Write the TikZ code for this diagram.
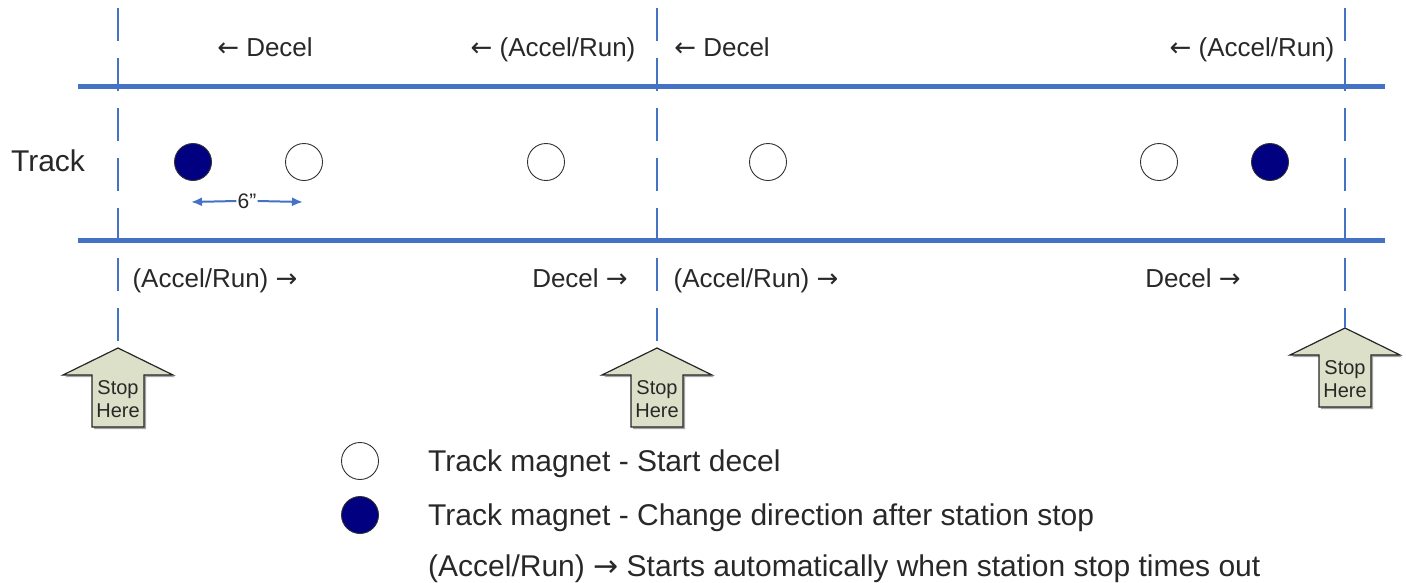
\documentclass[tikz,border=0pt]{standalone}
\usepackage{fontspec}
\setmainfont{Liberation Sans}
\newfontfamily\arrfont{DejaVu Sans}
\newcommand\rarr{{\arrfont →}}
\newcommand\larr{{\arrfont ←}}
\usetikzlibrary{arrows.meta}
\definecolor{trackblue}{RGB}{68,114,196}
\definecolor{navyfill}{RGB}{0,0,128}
\definecolor{stopfill}{RGB}{221,224,201}
\definecolor{txt}{RGB}{40,40,40}
\newcommand\stoparrow[3]{% x, tip y, name
  \fill[black!35,shift={(#1+2,#2+2)}] (0,0) -- (55,27) -- (26,27) -- (26,79) -- (-26,79) -- (-26,27) -- (-55,27) -- cycle;
  \draw[stopshape,shift={(#1,#2)}] (0,0) -- (55,27) -- (26,27) -- (26,79) -- (-26,79) -- (-26,27) -- (-55,27) -- cycle;
  \coordinate (#3tip) at (#1,#2);
  \node[stoptext] (#3) at (#1,#2+51) {Stop\\Here};
}
\begin{document}
\begin{tikzpicture}[x=1pt,y=-1pt,
  track/.style={trackblue, line width=5pt},
  vline/.style={trackblue, line width=1.6pt, dash pattern=on 33pt off 17pt},
  mag/.style={circle, draw=black!80, line width=0.9pt, minimum size=37pt, inner sep=0pt},
  magopen/.style={mag, fill=white},
  magclosed/.style={mag, fill=navyfill},
  lbl/.style={font=\fontsize{26}{31}\selectfont, inner sep=0pt, text=txt, anchor=base},
  leg/.style={font=\fontsize{30}{36}\selectfont, anchor=base west, inner sep=0pt, text=txt},
  stopshape/.style={fill=stopfill, draw=black!85, line width=1.2pt, line join=miter},
  stoptext/.style={font=\fontsize{20}{23}\selectfont, align=center, inner sep=0pt, text=txt},
  dim/.style={trackblue, line width=2pt, -{Latex[length=11pt,width=9pt]}}
]
\useasboundingbox (0,0) rectangle (1406,582);

% stop arrows
\stoparrow{118}{348}{stopA}
\stoparrow{657}{348}{stopB}
\stoparrow{1345}{328}{stopC}

% vertical dashed lines
\coordinate (vA) at (118,8);
\coordinate (vB) at (657,8);
\coordinate (vC) at (1345,8);
\draw[vline] (vA) -- (stopAtip);
\draw[vline] (vB) -- (stopBtip);
\draw[vline] (vC) -- (stopCtip);

% tracks
\coordinate (t1l) at (78,86);  \coordinate (t1r) at (1385,86);
\coordinate (t2l) at (78,240); \coordinate (t2r) at (1385,240);
\draw[track] (t1l) -- (t1r);
\draw[track] (t2l) -- (t2r);

\node[font=\fontsize{30}{36}\selectfont, text=txt, inner sep=0pt] (track) at (48,161) {Track};

% top labels
\node[lbl] (u1) at (265,56) {\larr\ Decel};
\node[lbl] (u2) at (553,56) {\larr\ (Accel/Run)};
\node[lbl] (u3) at (722,56) {\larr\ Decel};
\node[lbl] (u4) at (1252,56) {\larr\ (Accel/Run)};

% bottom labels
\node[lbl] (b1) at (215,287) {(Accel/Run) \rarr};
\node[lbl] (b2) at (580,287) {Decel \rarr};
\node[lbl] (b3) at (756,287) {(Accel/Run) \rarr};
\node[lbl] (b4) at (1193,287) {Decel \rarr};

% magnets
\node[magclosed] (m1) at (193,162) {};
\node[magopen] (m2) at (304,162) {};
\node[magopen] (m3) at (546,162) {};
\node[magopen] (m4) at (768,162) {};
\node[magopen] (m5) at (1159,162) {};
\node[magclosed] (m6) at (1270,162) {};

% 6" dimension
\node[font=\fontsize{21}{24}\selectfont, text=txt, inner sep=1pt] (six) at (247,201) {6"};
\coordinate (dl) at (191,202);
\coordinate (dr) at (303,202);
\draw[dim] (six.west) -- (dl);
\draw[dim] (six.east) -- (dr);

% legend
\node[magopen] (lg1) at (360,461) {};
\node[magclosed] (lg2) at (360,515) {};
\node[leg] (lt1) at (428,471) {Track magnet - Start decel};
\node[leg] (lt2) at (428,525) {Track magnet - Change direction after station stop};
\node[leg] (lt3) at (428,576) {(Accel/Run) \rarr\ Starts automatically when station stop times out};
\end{tikzpicture}
\end{document}
